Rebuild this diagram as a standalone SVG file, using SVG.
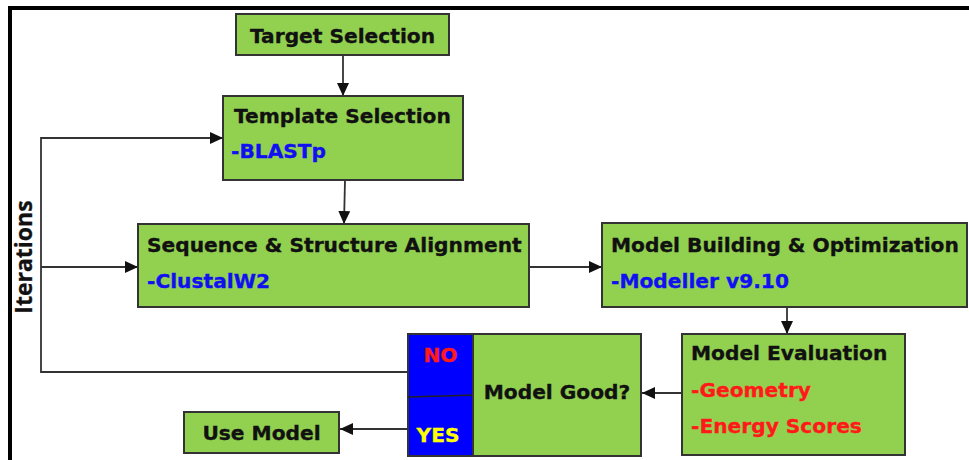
<svg xmlns="http://www.w3.org/2000/svg" width="969" height="460" viewBox="0 0 969 460">
  <style>
    .box { fill: #92D050; stroke: #333; stroke-width: 2; }
    .dec { fill: #0000FF; stroke: #333; stroke-width: 2; }
    .t { font-family: "DejaVu Sans", Verdana, sans-serif; font-weight: bold; font-size: 20.2px; fill: #111; stroke: #111; stroke-width: 0.35; }
    .blue { fill: #1010F0; stroke: #1010F0; }
    .red { fill: #FF1A1A; stroke: #FF1A1A; }
    .yel { fill: #FFFF00; stroke: #FFFF00; }
    .conn { fill: none; stroke: #333; stroke-width: 1.8; }
    .side { font-family: "Open Sans", "Noto Sans", sans-serif; font-weight: 700; font-size: 23px; fill: #111; stroke: #111; stroke-width: 0.3; }
  </style>
  <defs>
    <marker id="arrow" viewBox="0 0 13 12" refX="13" refY="6" markerWidth="13" markerHeight="12" markerUnits="userSpaceOnUse" orient="auto">
      <path d="M0,0 L13,6 L0,12 Z" fill="#111"/>
    </marker>
  </defs>

  <rect width="969" height="460" fill="#fff"/>
  <!-- outer frame -->
  <rect x="10" y="8" width="1000" height="500" fill="none" stroke="#000" stroke-width="4"/>

  <text class="side" transform="translate(32,257) rotate(-90)" text-anchor="middle">Iterations</text>

  <g id="connectors">
    <line class="conn" x1="343" y1="55" x2="343" y2="96" marker-end="url(#arrow)"/>
    <line class="conn" x1="345" y1="180" x2="344" y2="224" marker-end="url(#arrow)"/>
    <line class="conn" x1="529" y1="267" x2="602" y2="267" marker-end="url(#arrow)"/>
    <line class="conn" x1="787" y1="307" x2="787" y2="334" marker-end="url(#arrow)"/>
    <line class="conn" x1="682" y1="393" x2="642" y2="393" marker-end="url(#arrow)"/>
    <line class="conn" x1="408" y1="429" x2="340" y2="429" marker-end="url(#arrow)"/>
    <polyline class="conn" points="408,372 41,372 41,138 223,138" marker-end="url(#arrow)"/>
    <line class="conn" x1="41" y1="267" x2="138" y2="267" marker-end="url(#arrow)"/>
  </g>

  <g id="target-selection">
    <rect class="box" x="236" y="14" width="213" height="41"/>
    <text class="t" x="342.5" y="43" text-anchor="middle">Target Selection</text>
  </g>

  <g id="template-selection">
    <rect class="box" x="223" y="96" width="240" height="84"/>
    <text class="t" x="234" y="123">Template Selection</text>
    <text class="t blue" x="231" y="158">-BLASTp</text>
  </g>

  <g id="alignment">
    <rect class="box" x="138" y="224" width="391" height="83"/>
    <text class="t" x="147" y="252">Sequence &amp; Structure Alignment</text>
    <text class="t blue" x="147" y="288">-ClustalW2</text>
  </g>

  <g id="model-building">
    <rect class="box" x="602" y="223" width="365" height="84"/>
    <text class="t" x="611" y="252">Model Building &amp; Optimization</text>
    <text class="t blue" x="611" y="288">-Modeller v9.10</text>
  </g>

  <g id="model-evaluation">
    <rect class="box" x="682" y="334" width="223" height="121"/>
    <text class="t" x="691" y="360">Model Evaluation</text>
    <text class="t red" x="691" y="397">-Geometry</text>
    <text class="t red" x="691" y="433">-Energy Scores</text>
  </g>

  <g id="model-good">
    <rect class="dec" x="408" y="334" width="65" height="122"/>
    <line x1="408" y1="397" x2="476" y2="395" stroke="#222" stroke-width="1.6"/>
    <rect class="box" x="473" y="334" width="168" height="122"/>
    <text class="t" x="557" y="399" text-anchor="middle">Model Good?</text>
    <text class="t red" x="440.5" y="362" text-anchor="middle">NO</text>
    <text class="t yel" x="438" y="442" text-anchor="middle">YES</text>
  </g>

  <g id="use-model">
    <rect class="box" x="184" y="412" width="155" height="41"/>
    <text class="t" x="261.5" y="440" text-anchor="middle">Use Model</text>
  </g>
</svg>
